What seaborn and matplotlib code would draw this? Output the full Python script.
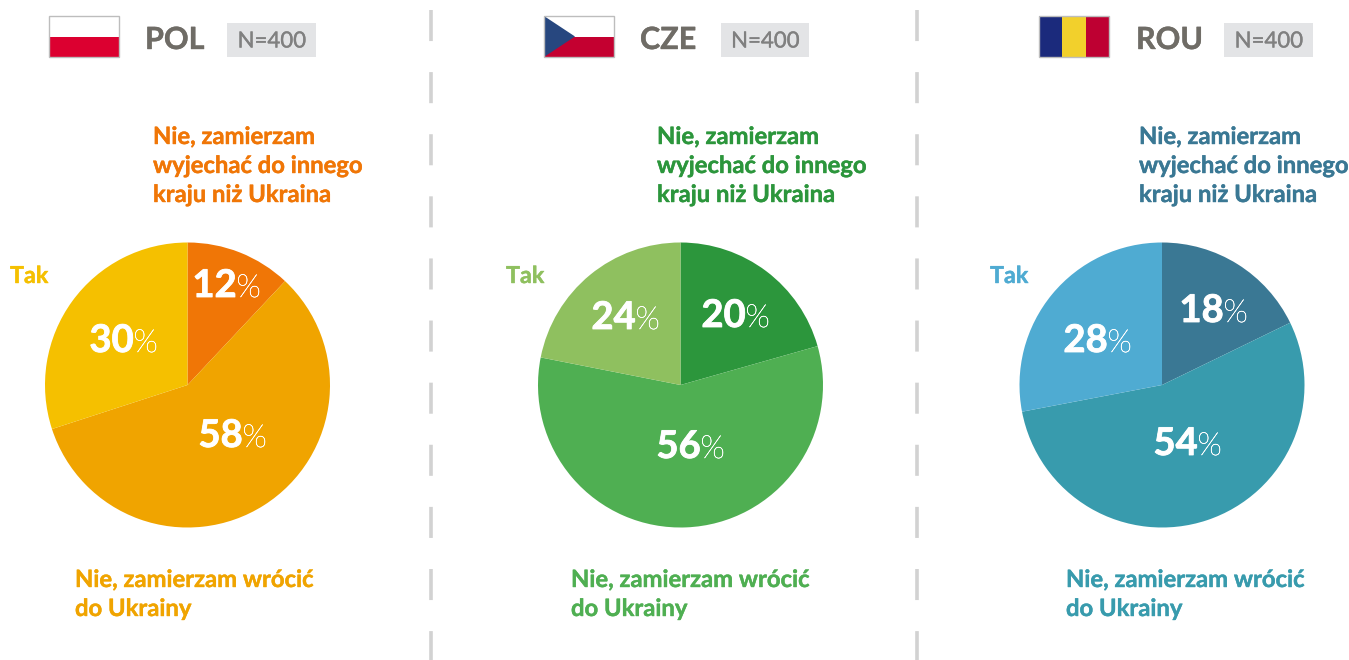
import matplotlib
matplotlib.use("Agg")
import matplotlib.pyplot as plt
from matplotlib.patches import Rectangle, Polygon
import matplotlib.patheffects as pe
import seaborn as sns

sns.set_theme(style="white")
plt.rcParams['font.family'] = ['Lato', 'DejaVu Sans']
plt.rcParams['text.hinting'] = 'no_hinting'
plt.rcParams['text.hinting_factor'] = 1

W, H = 1349, 660

countries = ["POL", "CZE", "ROU"]
sample_label = "N=400"
pol_values = [12, 58, 30]
cze_values = [20, 56, 24]
rou_values = [18, 54, 28]
# slice sizes as drawn in the picture (the CZE pie is not quite to its labels)
pol_shares = [12, 58, 30]
cze_shares = [20.6, 57.5, 21.9]
rou_shares = [17.8, 54.2, 28]
pol_colors = ["#F07606", "#F0A400", "#F5C000"]
cze_colors = ["#2C963C", "#4FAF52", "#8FC05F"]
rou_colors = ["#3A7894", "#389BAD", "#4FABD2"]

label_upper = "Nie, zamierzam\nwyjechać do innego\nkraju niż Ukraina"
label_lower = "Nie, zamierzam wrócić\ndo Ukrainy"
label_yes = "Tak"

panels = [
    dict(values=pol_values, shares=pol_shares, colors=pol_colors, cx=187.5,
         upper=153, lower=75, yes=10, lab=[(237, 297), (243, 447), (134, 352)]),
    dict(values=cze_values, shares=cze_shares, colors=cze_colors, cx=680.5,
         upper=657, lower=571, yes=506, lab=[(746, 327), (701, 458), (636, 329)]),
    dict(values=rou_values, shares=rou_shares, colors=rou_colors, cx=1162,
         upper=1139, lower=1066, yes=990, lab=[(1224, 322), (1198, 455), (1108, 352)]),
]
cy, radius = 385, 142.5

fig = plt.figure(figsize=(W / 100, H / 100), dpi=100, facecolor="white")

ov = fig.add_axes([0, 0, 1, 1], zorder=3)
ov.set_xlim(0, W)
ov.set_ylim(H, 0)
ov.axis("off")
ov.patch.set_alpha(0)


def heavy(color, width=0.3):
    return [pe.withStroke(linewidth=width, foreground=color)]


for p in panels:
    ax = fig.add_axes([(p["cx"] - radius) / W, 1 - (cy + radius) / H,
                       2 * radius / W, 2 * radius / H], zorder=1)
    ax.pie(p["shares"], colors=p["colors"], startangle=90, counterclock=False,
           radius=1.0, wedgeprops=dict(linewidth=0))
    ax.set_xlim(-1, 1)
    ax.set_ylim(-1, 1)

    col_top, col_low, col_yes = p["colors"]
    for i, line in enumerate(label_upper.split("\n")):
        ov.text(p["upper"], 144 + i * 29, line, color=col_top, fontsize=17.15,
                fontweight="bold", va="baseline", ha="left",
                path_effects=heavy(col_top))
    for i, line in enumerate(label_lower.split("\n")):
        ov.text(p["lower"], 587 + i * 29, line, color=col_low, fontsize=17.15,
                fontweight="bold", va="baseline", ha="left",
                path_effects=heavy(col_low))
    ov.text(p["yes"], 283, label_yes, color=col_yes, fontsize=16.8,
            fontweight="bold", va="baseline", ha="left",
            path_effects=heavy(col_yes))

    for v, (x, y) in zip(p["values"], p["lab"]):
        ov.text(x - 0.5, y, str(v), color="white", fontsize=27.5, fontweight="bold",
                va="baseline", ha="right", path_effects=heavy("white", 0.6))
        ov.text(x - 0.5, y, "%", color="white", fontsize=23, fontweight="light",
                va="baseline", ha="left", path_effects=heavy("white", 0.35))

for x in (431, 917):
    ov.plot([x, x], [10, H], color="#D2D2D2", lw=2.6,
            linestyle=(0, (8.6, 8.6)))

border = "#BDBDBD"
fw, fh = 70, 41
x, y = 49, 16
ov.add_patch(Rectangle((x, y), fw, fh / 2, fc="white", ec="none"))
ov.add_patch(Rectangle((x, y + fh * 0.5), fw, fh * 0.5, fc="#DC0030", ec="none"))
ov.add_patch(Rectangle((x, y), fw, fh, fc="none", ec=border, lw=1))
x, y = 544, 16
ov.add_patch(Rectangle((x, y), fw, fh / 2, fc="white", ec="none"))
ov.add_patch(Rectangle((x, y + fh / 2), fw, fh / 2, fc="#C40030", ec="none"))
ov.add_patch(Polygon([(x, y), (x + 31, y + fh / 2), (x, y + fh)], fc="#27477F", ec="none"))
ov.add_patch(Rectangle((x, y), fw, fh, fc="none", ec=border, lw=1))
x, y = 1039, 16
for i, c in enumerate(["#1B2A7C", "#F2D02C", "#BE0032"]):
    ov.add_patch(Rectangle((x + i * fw / 3, y), fw / 3, fh, fc=c, ec="none"))
ov.add_patch(Rectangle((x, y), fw, fh, fc="none", ec=border, lw=1))

name_x = [145, 640, 1136]
box = [(227, 23, 89, 34), (721, 23, 88, 34), (1224, 23, 89, 34)]
for name, nx, (bx, by, bw, bh) in zip(countries, name_x, box):
    ov.text(nx, 49, name, color="#6F6C66", fontsize=22, fontweight="bold",
            va="baseline", ha="left", path_effects=heavy("#6F6C66"))
    ov.add_patch(Rectangle((bx, by), bw, bh, fc="#E3E4E6", ec="none"))
    ov.text(bx + bw / 2, by + 24.5, sample_label, color="#808080", fontsize=16,
            va="baseline", ha="center", path_effects=heavy("#808080", 0.25))

fig.savefig("out.png", dpi=100, facecolor="white")
